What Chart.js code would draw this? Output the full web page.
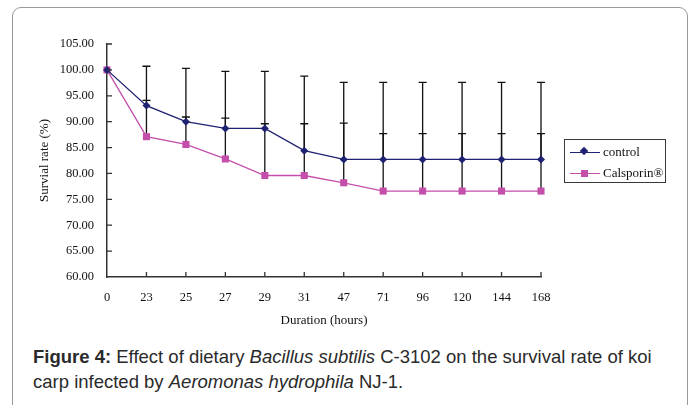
<!DOCTYPE html>
<html lang="en">
<head>
  <meta charset="UTF-8">
  <title>Figure 4 - Survival rate of koi carp</title>
  <script src="https://cdn.jsdelivr.net/npm/chart.js"></script>
  <style>
    html, body { margin: 0; padding: 0; background: #fff; }
    body { width: 693px; height: 405px; position: relative; overflow: hidden; }
    .frame {
      position: absolute; left: 12px; top: 7px; width: 676px; height: 420px;
      border: 1px solid #9a9a9a; border-radius: 9px; box-sizing: border-box;
    }
    #chart { position: absolute; left: 0; top: 0; }
    .legend {
      position: absolute; left: 564px; top: 139px; width: 102px; height: 44px;
      border: 1.5px solid #3a3a3a; box-sizing: border-box;
      font: 13px "Liberation Serif", serif; color: #111;
    }
    .legend .row { position: absolute; left: 5px; height: 14px; width: 96px; }
    .legend .row span.txt { position: absolute; left: 33px; top: 0; line-height: 14px; white-space: nowrap; }
    .legend .ln { position: absolute; left: 0; top: 6.5px; width: 30px; height: 1.5px; }
    .legend .mk { position: absolute; }
    .caption {
      position: absolute; left: 33px; top: 344px; width: 650px;
      font: 18.5px "Liberation Sans", Arial, sans-serif; color: #2a2a2a; line-height: 25px;
    }
  </style>
</head>
<body>
<div class="frame"></div>
<canvas id="chart" width="693" height="335"></canvas>

<div class="legend">
  <div class="row" style="top:5px">
    <div class="ln" style="background:#1f2272"></div>
    <div class="mk" style="left:11px;top:3px;width:6px;height:6px;background:#1f2272;transform:rotate(45deg)"></div>
    <span class="txt">control</span>
  </div>
  <div class="row" style="top:26px">
    <div class="ln" style="background:#c44fab"></div>
    <div class="mk" style="left:10.5px;top:3.5px;width:7px;height:7px;background:#c44fab"></div>
    <span class="txt">Calsporin®</span>
  </div>
</div>

<div class="caption"><b>Figure 4:</b> Effect of dietary <i>Bacillus subtilis</i> C-3102 on the survival rate of koi carp infected by <i>Aeromonas hydrophila</i> NJ-1.</div>

<script>
  // durée (heures)
  const hours = ['0', '23', '25', '27', '29', '31', '47', '71', '96', '120', '144', '168'];
  const controlRate = [100, 93.1, 90.0, 88.7, 88.7, 84.4, 82.7, 82.7, 82.7, 82.7, 82.7, 82.7];
  const controlSD = [0, 7.6, 10.3, 11.0, 11.0, 14.4, 14.9, 14.9, 14.9, 14.9, 14.9, 14.9];
  const calsporinRate = [100, 87.1, 85.6, 82.8, 79.6, 79.6, 78.2, 76.6, 76.6, 76.6, 76.6, 76.6];
  const calsporinSD = [0, 7.0, 5.3, 7.9, 10.0, 10.0, 11.5, 11.1, 11.1, 11.1, 11.1, 11.1];

  const NAVY = '#1f2272';
  const PINK = '#c44fab';

  // barres d'erreur (seulement vers le haut) + petits traits vers l'intérieur
  const extras = {
    id: 'extras',
    beforeDatasetsDraw(chart) {
      const ctx = chart.ctx;
      const x = chart.scales.x, y = chart.scales.y;
      const sds = [controlSD, calsporinSD];
      ctx.save();
      ctx.strokeStyle = '#111';
      ctx.lineWidth = 1.3;
      chart.data.datasets.forEach((ds, i) => {
        ds.data.forEach((v, j) => {
          const sd = sds[i][j];
          if (!sd) return;
          const px = x.getPixelForValue(j);
          const y0 = y.getPixelForValue(v);
          const y1 = y.getPixelForValue(v + sd);
          ctx.beginPath();
          ctx.moveTo(px, y0); ctx.lineTo(px, y1);
          ctx.moveTo(px - 4, y1); ctx.lineTo(px + 4, y1);
          ctx.stroke();
        });
      });
      ctx.restore();
    },
    afterDraw(chart) {
      const ctx = chart.ctx;
      const x = chart.scales.x, y = chart.scales.y;
      ctx.save();
      ctx.strokeStyle = '#333';
      ctx.lineWidth = 1.3;
      ctx.beginPath();
      x.ticks.forEach((t, i) => {
        if (i === 0) return;
        const px = x.getPixelForTick(i);
        ctx.moveTo(px, y.bottom); ctx.lineTo(px, y.bottom - 5);
      });
      y.ticks.forEach((t, i) => {
        if (i === 0) return;
        const py = y.getPixelForTick(i);
        ctx.moveTo(x.left, py); ctx.lineTo(x.left + 5, py);
      });
      ctx.stroke();
      ctx.restore();
    }
  };

  const tickFont = { family: '"Liberation Serif", serif', size: 12.5 };
  const titleFont = { family: '"Liberation Serif", serif', size: 13 };

  new Chart(document.getElementById('chart'), {
    type: 'line',
    data: {
      labels: hours,
      datasets: [
        {
          label: 'control', data: controlRate,
          borderColor: NAVY, backgroundColor: NAVY, borderWidth: 1.3,
          pointStyle: 'rectRot', pointRadius: 4, pointBorderWidth: 0, tension: 0
        },
        {
          label: 'Calsporin®', data: calsporinRate,
          borderColor: PINK, backgroundColor: PINK, borderWidth: 1.3,
          pointStyle: 'rect', pointRadius: 5, pointBorderWidth: 0, tension: 0
        }
      ]
    },
    options: {
      responsive: false,
      animation: false,
      devicePixelRatio: 1,
      layout: { padding: { top: 44, right: 152, left: 0, bottom: 7 } },
      plugins: { legend: { display: false }, tooltip: { enabled: false } },
      scales: {
        x: {
          offset: false,
          grid: { display: false, drawTicks: false },
          border: { display: true, color: '#333', width: 1.5 },
          ticks: { color: '#111', font: tickFont, padding: 13, maxRotation: 0, autoSkip: false },
          title: { display: true, text: 'Duration (hours)', color: '#111', font: titleFont, padding: { top: 0, bottom: 0 } },
          afterFit(s) { s.height = 51; }
        },
        y: {
          min: 60, max: 105,
          grid: { display: false, drawTicks: false },
          border: { display: true, color: '#333', width: 1.5 },
          ticks: { stepSize: 5, color: '#111', font: tickFont, padding: 13, callback: v => v.toFixed(2) },
          title: { display: true, text: 'Survial rate (%)', color: '#111', font: titleFont, padding: { top: 37, bottom: 0 } },
          afterFit(s) { s.width = 107; }
        }
      }
    },
    plugins: [extras]
  });
</script>
</body>
</html>
